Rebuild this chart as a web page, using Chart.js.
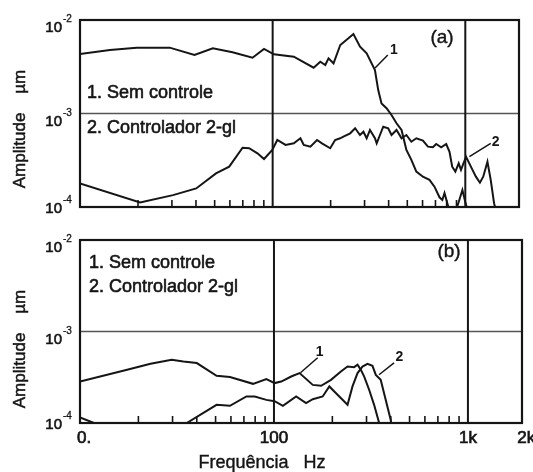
<!DOCTYPE html>
<html>
<head>
<meta charset="utf-8">
<script src="https://cdn.jsdelivr.net/npm/chart.js@4.4.1/dist/chart.umd.min.js"></script>
<style>
  body { margin: 0; background: #fff; }
  #wrap { position: relative; width: 533px; height: 472px; }
  canvas { position: absolute; left: 0; }
</style>
</head>
<body>
<div id="wrap">
  <canvas id="chartA" width="533" height="230" style="top:0"></canvas>
  <canvas id="chartB" width="533" height="242" style="top:230px"></canvas>
</div>
<script>
// panel (a) - curve 1: sem controle, curve 2: controlador 2-gl
const freqA1 = [10, 14.3, 19.7, 29.2, 39.3, 48.9, 61.9, 78.6, 90.2, 101.5, 128.8, 163.2, 176.7, 187.6, 195, 207, 224.4, 247.4, 262.6, 284.2, 307.6, 339.6, 353.2, 367.4, 390, 414, 439.5, 466.7, 494.6, 524.8, 557, 602.6, 651.6, 691.8, 734.5, 760, 780, 798, 817, 847, 899, 931, 966, 1000, 1023];
const ampA1 = [4.33e-3, 4.78e-3, 5.06e-3, 5.06e-3, 4.22e-3, 4.98e-3, 4.51e-3, 3.95e-3, 4.90e-3, 4.30e-3, 4.05e-3, 3.09e-3, 3.58e-3, 3.30e-3, 3.89e-3, 3.44e-3, 5.40e-3, 6.37e-3, 7.08e-3, 5.18e-3, 4.40e-3, 2.92e-3, 1.78e-3, 1.28e-3, 1.14e-3, 9.64e-4, 7.86e-4, 6.67e-4, 4.07e-4, 3.19e-4, 2.39e-4, 2.11e-4, 1.95e-4, 1.65e-4, 1.27e-4, 1.19e-4, 1.41e-4, 1.19e-4, 1.0e-4, 9.5e-5, 9.5e-5, 1.19e-4, 1.52e-4, 1.13e-4, 9.5e-5];

const freqA2 = [10, 20.5, 30.4, 40.1, 50.8, 59.5, 69.8, 75.5, 83.4, 90.2, 99.6, 105.7, 116.7, 128.8, 139.4, 145, 157, 170, 180.3, 199, 211, 224, 233, 252.6, 268, 284, 296, 307.6, 320, 339.6, 346.7, 360.6, 375, 398, 414, 439.5, 466.7, 494.6, 524.8, 557, 602.6, 640, 679, 706, 750, 796, 828, 855, 888, 924, 950, 1009, 1069, 1135, 1191, 1239, 1303, 1355, 1410, 1445];
const ampA2 = [1.79e-4, 1.12e-4, 1.34e-4, 1.58e-4, 2.29e-4, 2.70e-4, 4.31e-4, 4.25e-4, 3.75e-4, 3.26e-4, 4.07e-4, 5.21e-4, 4.61e-4, 4.80e-4, 5.43e-4, 4.61e-4, 4.42e-4, 5.21e-4, 4.80e-4, 4.25e-4, 5.21e-4, 5.43e-4, 5.65e-4, 6.14e-4, 6.95e-4, 5.89e-4, 6.38e-4, 5.43e-4, 6.67e-4, 5.43e-4, 4.8e-4, 5.89e-4, 7.22e-4, 6.95e-4, 5.89e-4, 6.67e-4, 5.43e-4, 5.89e-4, 4.99e-4, 5.43e-4, 5.12e-4, 4.42e-4, 4.35e-4, 4.72e-4, 4.35e-4, 4.72e-4, 3.90e-4, 2.70e-4, 2.39e-4, 2.93e-4, 2.49e-4, 3.45e-4, 2.70e-4, 2.11e-4, 1.82e-4, 2.11e-4, 3.05e-4, 1.95e-4, 1.10e-4, 9e-5];

// panel (b)
const freqB1 = [10, 17.5, 23.1, 29.7, 34.1, 40, 50.6, 59.3, 78, 91.4, 100.8, 109, 122.7, 135.5, 158.5, 175, 196.8, 221.4, 239.5, 259, 269.7, 280.5, 291.9, 309.5, 328.3, 348.6, 358];
const ampB1 = [2.84e-4, 3.81e-4, 4.44e-4, 4.91e-4, 4.70e-4, 4.52e-4, 3.28e-4, 3.18e-4, 2.68e-4, 3.02e-4, 2.73e-4, 2.84e-4, 3.22e-4, 3.51e-4, 2.61e-4, 2.55e-4, 2.96e-4, 3.66e-4, 4.14e-4, 4.08e-4, 4.33e-4, 3.81e-4, 3.22e-4, 2.31e-4, 1.58e-4, 1.0e-4, 8e-5];

const freqB2 = [10, 11.8, 20, 35.5, 50.6, 59.3, 72.1, 79.6, 91.4, 100.8, 111.2, 130.1, 146.4, 158.5, 178.3, 193, 204.7, 239.5, 254, 269.7, 286, 303.4, 322, 335, 355, 376.7, 400, 407.7];
const ampB2 = [1.15e-4, 1.0e-4, 1.0e-4, 1.0e-4, 1.58e-4, 1.54e-4, 1.95e-4, 1.95e-4, 1.79e-4, 1.73e-4, 1.54e-4, 1.95e-4, 1.65e-4, 1.82e-4, 1.95e-4, 2.51e-4, 2.21e-4, 1.58e-4, 2.51e-4, 3.51e-4, 4.14e-4, 4.44e-4, 4.22e-4, 3.36e-4, 2.96e-4, 1.79e-4, 1.08e-4, 8e-5];

// axes
const yTicks = [1e-2, 1e-3, 1e-4];
const yTickExp = ['-2', '-3', '-4'];
const xTickVals = [10, 100, 1000, 2000];
const xTickText = ['0.', '100', '1k', '2k'];
const vGrid = [100, 1000];
const hGrid = [1e-3];
const minorTicks = [20, 30, 40, 50, 60, 70, 80, 90, 200, 300, 400, 500, 600, 700, 800, 900];
const legendText = ['1. Sem controle', '2. Controlador 2-gl'];

const FONT = '"Liberation Sans", Arial, sans-serif';
const INK = '#151515';

function seg(ctx, x1, y1, x2, y2) {
  ctx.beginPath();
  ctx.moveTo(x1, y1);
  ctx.lineTo(x2, y2);
  ctx.stroke();
}

// scanned print looks a bit heavier than plain canvas text
function ink(ctx, t, x, y, w) {
  ctx.fillText(t, x, y);
  ctx.lineWidth = w;
  ctx.strokeText(t, x, y);
}

const paper = {
  id: 'paper',
  beforeDatasetsDraw(chart, args, o) {
    const {ctx, chartArea: a, scales: {x, y}} = chart;
    ctx.save();
    ctx.strokeStyle = '#555';
    ctx.lineWidth = 1.5;
    hGrid.forEach(v => {
      const py = y.getPixelForValue(v);
      seg(ctx, a.left, py, a.right, py);
    });
    ctx.strokeStyle = INK;
    ctx.lineWidth = 2;
    vGrid.forEach(v => {
      const px = x.getPixelForValue(v);
      seg(ctx, px, a.top, px, a.bottom);
    });
    ctx.lineWidth = 1.6;
    minorTicks.forEach(v => {
      const px = x.getPixelForValue(v);
      seg(ctx, px, a.bottom, px, a.bottom - 7);
    });
    ctx.restore();
  },
  afterDraw(chart, args, o) {
    const {ctx, chartArea: a, scales: {x, y}} = chart;
    ctx.save();
    ctx.strokeStyle = INK;
    ctx.fillStyle = INK;
    ctx.lineWidth = 2.2;
    ctx.strokeRect(a.left, a.top, a.width, a.height);

    // y tick labels 10^-n
    yTicks.forEach((v, i) => {
      const py = y.getPixelForValue(v);
      const base = Math.min(py + 12, a.bottom + 6);
      ctx.font = '15px ' + FONT;
      ctx.textAlign = 'right';
      ctx.textBaseline = 'alphabetic';
      ink(ctx, '10', 62, base, 0.6);
      ctx.font = '10px ' + FONT;
      ctx.textAlign = 'left';
      ink(ctx, yTickExp[i], 63, base - 10, 0.3);
    });

    // y title
    ctx.save();
    ctx.translate(20, o.titleY);
    ctx.rotate(-Math.PI / 2);
    ctx.font = '17px ' + FONT;
    ctx.textAlign = 'center';
    ctx.textBaseline = 'middle';
    ink(ctx, 'Amplitude    \u00b5m', 0, 0, 0.5);
    ctx.restore();

    // legend text inside the plot
    ctx.font = '18px ' + FONT;
    ctx.textAlign = 'left';
    ctx.textBaseline = 'alphabetic';
    legendText.forEach((t, i) => ink(ctx, t, o.legend[0], o.legend[1 + i], 0.6));

    // panel tag
    ctx.font = '19px ' + FONT;
    ctx.textAlign = 'center';
    ink(ctx, o.tag, o.tagPos[0], o.tagPos[1], 0.4);

    // curve labels with leader lines
    o.notes.forEach(n => {
      ctx.lineWidth = 1.5;
      seg(ctx, x.getPixelForValue(n.from[0]), y.getPixelForValue(n.from[1]),
               x.getPixelForValue(n.to[0]), y.getPixelForValue(n.to[1]));
      ctx.font = 'bold 14px ' + FONT;
      ctx.textAlign = 'center';
      ctx.textBaseline = 'middle';
      ctx.fillText(n.text, x.getPixelForValue(n.at[0]), y.getPixelForValue(n.at[1]));
    });

    // x tick labels and title (bottom panel only)
    if (o.xAxis) {
      ctx.font = '17px ' + FONT;
      ctx.textBaseline = 'alphabetic';
      xTickVals.forEach((v, i) => {
        const px = x.getPixelForValue(v);
        ctx.textAlign = i === 0 ? 'left' : 'center';
        ink(ctx, xTickText[i], i === 0 ? px - 3 : px, a.bottom + 20, 0.7);
      });
      ctx.font = '18px ' + FONT;
      ctx.textAlign = 'center';
      ink(ctx, 'Frequ\u00eancia   Hz', 262, a.bottom + 45, 0.4);
    }
    ctx.restore();
  }
};

function makeSet(fx, ay) {
  return {
    data: fx.map((f, i) => ({x: f, y: ay[i]})),
    showLine: true,
    borderColor: INK,
    borderWidth: 2,
    pointRadius: 0,
    tension: 0
  };
}

function makeChart(id, sets, pad, opts) {
  return new Chart(document.getElementById(id), {
    type: 'scatter',
    data: {datasets: sets},
    options: {
      responsive: false,
      animation: false,
      layout: {padding: pad},
      scales: {
        x: {type: 'logarithmic', min: 10, max: 1900, display: false},
        y: {type: 'logarithmic', min: 1e-4, max: 1e-2, display: false}
      },
      plugins: {
        legend: {display: false},
        tooltip: {enabled: false},
        paper: opts
      }
    },
    plugins: [paper]
  });
}

makeChart('chartA', [makeSet(freqA1, ampA1), makeSet(freqA2, ampA2)],
  {left: 80, right: 14, top: 20, bottom: 23},
  {
    titleY: 129,
    legend: [87, 98, 133],
    tag: '(a)',
    tagPos: [442, 43],
    xAxis: false,
    notes: [
      {text: '1', at: [426, 4.77e-3], from: [340, 3.07e-3], to: [396, 4.23e-3]},
      {text: '2', at: [1439, 4.9e-4], from: [1050, 3.45e-4], to: [1355, 4.8e-4]}
    ]
  });

makeChart('chartB', [makeSet(freqB1, ampB1), makeSet(freqB2, ampB2)],
  {left: 80, right: 11, top: 10, bottom: 49},
  {
    titleY: 119,
    legend: [89, 38, 62],
    tag: '(b)',
    tagPos: [449, 27],
    xAxis: true,
    notes: [
      {text: '1', at: [172, 6.0e-4], from: [137, 3.54e-4], to: [168, 5.16e-4]},
      {text: '2', at: [443, 5.28e-4], from: [348, 3.37e-4], to: [416, 4.55e-4]}
    ]
  });
</script>
</body>
</html>
